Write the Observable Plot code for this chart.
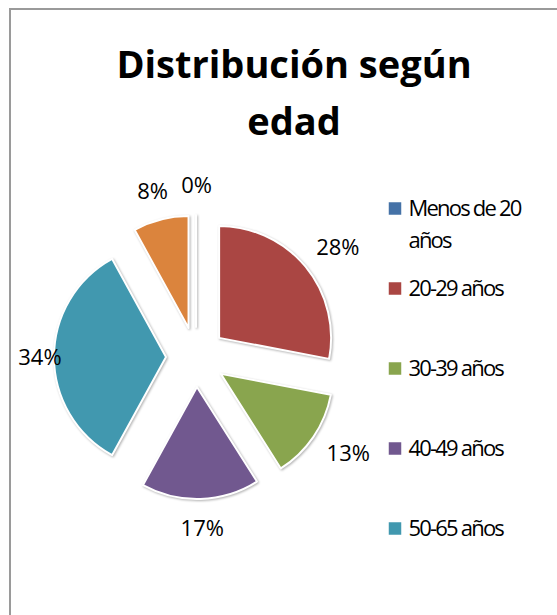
<!DOCTYPE html>
<html>
<head>
<meta charset="utf-8">
<script src="https://cdn.jsdelivr.net/npm/d3@7"></script>
<script src="https://cdn.jsdelivr.net/npm/@observablehq/plot@0.6"></script>
<style>
  html, body { margin: 0; padding: 0; background: #fff; }
  body { width: 557px; height: 615px; overflow: hidden; position: relative; font-family: "Open Sans", sans-serif; }
  #frame { position: absolute; left: 9px; top: 8px; width: 640px; height: 720px; box-sizing: border-box;
           border-left: 2px solid #9a9a9a; border-top: 2px solid #9a9a9a; }
  #title { position: absolute; left: 0; top: 35px; width: 588px; text-align: center;
           font: bold 38px/57px "Open Sans", sans-serif; color: #000; }
  #pie, #legend { position: absolute; top: 0; }
  #pie { left: 0; }
  #legend { left: 380px; }
</style>
</head>
<body>
<div id="frame"></div>
<div id="title">Distribución según<br>edad</div>
<div id="pie"></div>
<div id="legend"></div>
<script>
// ---- data ----
const categories = ["Menos de 20 años", "20-29 años", "30-39 años", "40-49 años", "50-65 años", "Más de 65 años"];
const values = [0, 28, 13, 17, 34, 8];
const pctLabels = ["0%", "28%", "13%", "17%", "34%", "8%"];
const legendCategories = ["Menos de 20 años", "20-29 años", "30-39 años", "40-49 años", "50-65 años"];
const palette = ["#4572A7", "#AA4643", "#89A54E", "#71588F", "#4198AF", "#DB843D"];

// ---- layout ----
const W = 557, H = 615, CX = 196, CY = 357, R = 112, EXPLODE = 30, LABEL_D = 163, LABEL_FS = 22, MIN_LEFT = 19;

const data = categories.map((cat, i) => ({cat, value: values[i], label: pctLabels[i]}));
const colorOpts = {type: "ordinal", domain: categories, range: palette};
const colorScale = Plot.scale({color: colorOpts});
const arcs = d3.pie().sort(null).value(d => d.value)(data);

const xDomain = [-CX / R, (W - CX) / R];
const yDomain = [-(H - CY) / R, CY / R];

// label positions (unit coordinates, y up)
const labelData = arcs.map(a => {
  const mid = (a.startAngle + a.endAngle) / 2;
  const dx = Math.sin(mid), dy = -Math.cos(mid);
  const w = a.data.label.length * 0.62 * LABEL_FS, h = 0.75 * LABEL_FS;
  let ox = LABEL_D * dx + (w / 2) * dx;
  let oy = LABEL_D * dy + (h / 2) * dy;
  ox = Math.max(ox, MIN_LEFT + w / 2 - CX);
  return {label: a.data.label, x: ox / R, y: -oy / R};
});

function pieMark(index, scales) {
  const px = (scales && typeof scales.x === "function") ? scales.x : d3.scaleLinear(xDomain, [0, W]);
  const py = (scales && typeof scales.y === "function") ? scales.y : d3.scaleLinear(yDomain, [H, 0]);
  const col = (scales && typeof scales.color === "function") ? scales.color : (c) => colorScale.apply(c);
  const rPx = px(1) - px(0);
  const arcGen = d3.arc().innerRadius(0).outerRadius(rPx);
  const g = d3.create("svg:g");
  for (const a of arcs) {
    const mid = (a.startAngle + a.endAngle) / 2;
    const ex = (EXPLODE / R) * Math.sin(mid), ey = (EXPLODE / R) * Math.cos(mid);
    g.append("path")
      .attr("transform", `translate(${px(ex)},${py(ey)})`)
      .attr("d", arcGen(a))
      .attr("fill", col(a.data.cat))
      .attr("stroke", "#fff")
      .attr("stroke-width", 2)
      .attr("stroke-linejoin", "round")
      .style("filter", "drop-shadow(1.5px 1.5px 1.2px rgba(0,0,0,0.3))");
  }
  return g.node();
}

const pie = Plot.plot({
  width: W, height: H, margin: 0,
  style: {background: "transparent", overflow: "visible"},
  x: {domain: xDomain, range: [0, W], axis: null},
  y: {domain: yDomain, range: [H, 0], axis: null},
  color: colorOpts,
  marks: [
    pieMark,
    Plot.text(labelData, {x: "x", y: "y", text: "label", fontSize: LABEL_FS, fill: "#000", fontFamily: "Open Sans"})
  ]
});
document.getElementById("pie").append(pie);

const legend = Plot.plot({
  width: 177, height: H, margin: 0,
  style: {background: "transparent", overflow: "visible", letterSpacing: "-1.8px"},
  y: {type: "point", domain: legendCategories, range: [208, 528], padding: 0, axis: null},
  color: colorOpts,
  marks: [
    Plot.dot(legendCategories, {y: d => d, fill: d => d, symbol: "square", r: 7.05, frameAnchor: "left", dx: 14.5}),
    Plot.text(legendCategories, {y: d => d, text: d => d, frameAnchor: "left", dx: 28, textAnchor: "start",
      lineAnchor: "top", lineHeight: 1.4545, lineWidth: 6.5, dy: -15.7, fontSize: 22, fill: "#000", fontFamily: "Open Sans"})
  ]
});
document.getElementById("legend").append(legend);
</script>
</body>
</html>
